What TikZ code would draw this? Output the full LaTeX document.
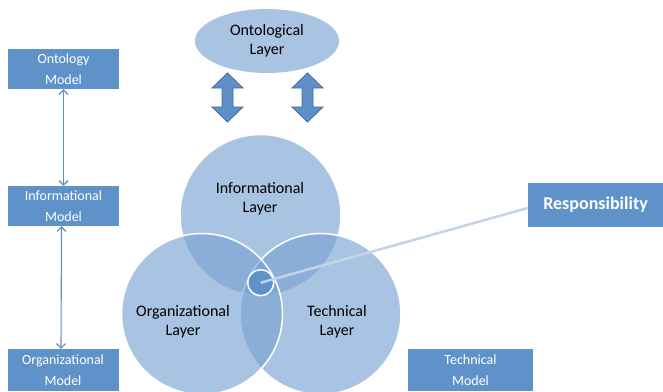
\documentclass[tikz,border=0pt]{standalone}
\usepackage{fontspec}
\setmainfont{Carlito}
\usetikzlibrary{arrows.meta,shapes.geometric}
\definecolor{boxblue}{RGB}{95,146,201}
\definecolor{lightblue}{RGB}{169,196,226}
\definecolor{circbase}{RGB}{121,163,210}
\definecolor{arrowblue}{RGB}{91,143,199}
\definecolor{blockfill}{RGB}{95,143,198}
\definecolor{blockedge}{RGB}{65,113,156}
\definecolor{linegray}{RGB}{197,211,230}
\definecolor{smallfill}{RGB}{96,145,200}
\begin{document}
\begin{tikzpicture}[x=1pt,y=-1pt,
 modelbox/.style={fill=boxblue, text=white, minimum width=111pt, minimum height=40pt, inner sep=0pt, align=center, font=\fontsize{14}{21}\selectfont},
 layercirc/.style={circle, minimum size=161pt, inner sep=0pt, fill=circbase, fill opacity=0.64, draw=white, line width=1.5pt, draw opacity=1},
 layertext/.style={align=center, font=\fontsize{16}{19}\selectfont, text=black},
 thinarrow/.style={draw=arrowblue, line width=1.1pt, {Straight Barb[length=4.5pt,width=9pt]}-{Straight Barb[length=4.5pt,width=9pt]}},
 blockarrow/.style={fill=blockfill, draw=blockedge, line width=0.8pt}]
\fill[white] (0,0) rectangle (663,391);
\useasboundingbox (0,0) rectangle (663,391);

% model boxes
\node[modelbox] (ontm) at (63.5,69) {Ontology\\Model};
\node[modelbox] (infm) at (63.5,206) {Informational\\Model};
\node[modelbox, minimum height=42pt] (orgm) at (63,370) {Organizational\\Model};
\node[modelbox, minimum width=125pt, minimum height=42pt] (techm) at (470.5,370) {Technical\\Model};
\node[modelbox, minimum width=135pt, minimum height=44pt, font=\fontsize{18}{21}\selectfont\bfseries] (resp) at (595.5,205) {Responsibility};

\draw[thinarrow] (ontm.south) -- (infm.north);
\draw[thinarrow] ([xshift=-2pt]infm.south) -- ([xshift=-2pt]orgm.north);

% ontological layer
\node[ellipse, fill=lightblue, minimum width=144pt, minimum height=64pt, inner sep=0pt, align=center, font=\fontsize{16}{19}\selectfont] (ont) at (267,41) {Ontological\\Layer};

% block double arrows
\draw[blockarrow] (227.5,73) -- ++(15.5,15) -- ++(-10,0) -- ++(0,19) -- ++(10,0) -- (227.5,122) -- ++(-15.5,-15) -- ++(10,0) -- ++(0,-19) -- ++(-10,0) -- cycle;
\draw[blockarrow] (307.5,73) -- ++(15.5,15) -- ++(-10,0) -- ++(0,19) -- ++(10,0) -- (307.5,122) -- ++(-15.5,-15) -- ++(10,0) -- ++(0,-19) -- ++(-10,0) -- cycle;

% circles
\node[layercirc] (info) at (260.5,215) {};
\node[layercirc] (tech) at (320.5,314) {};
\node[layercirc] (org) at (202,314) {};
\node[circle, minimum size=26pt, inner sep=0pt, fill=smallfill, draw=white, line width=1.5pt] (small) at (260.7,282.7) {};

\draw[linegray, line width=2.5pt] (small.center) -- ([yshift=-3pt]resp.west);

\node[layertext] (infot) at (260,199) {Informational\\Layer};
\node[layertext] (orgt) at (183,322) {Organizational\\Layer};
\node[layertext] (techt) at (337,322) {Technical\\Layer};
\end{tikzpicture}
\end{document}
